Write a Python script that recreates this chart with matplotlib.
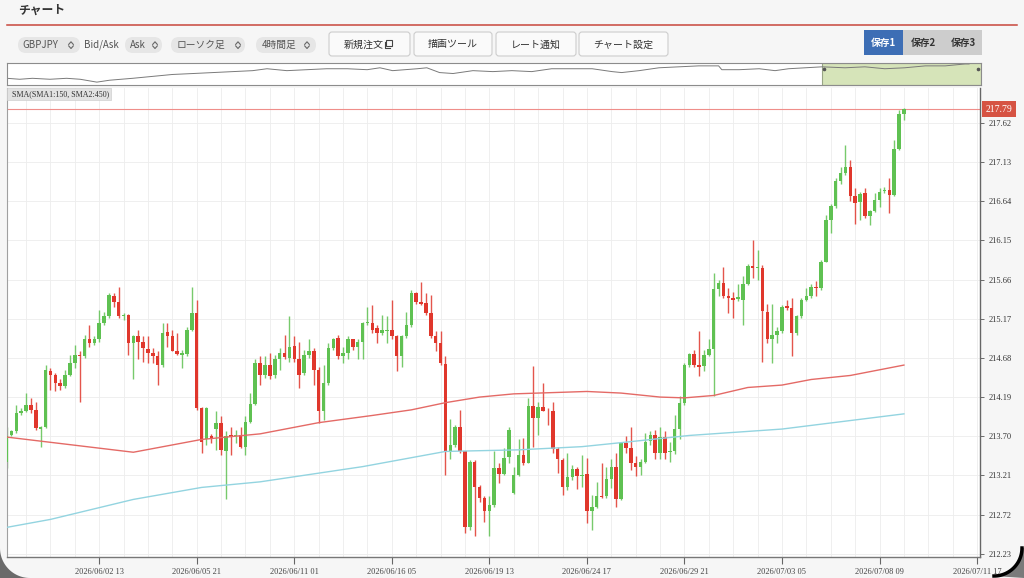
import numpy as np
import matplotlib.pyplot as plt
from matplotlib.patches import FancyBboxPatch, Rectangle, Polygon

plt.rcParams['font.family'] = ['Noto Sans CJK JP', 'DejaVu Sans']

# GBPJPY 4h candles (Ask), oldest first
opens = [
    213.38, 213.72, 213.76, 213.99, 214.01, 214.09, 214.03, 213.79, 213.82, 214.52,
    214.46, 214.36, 214.33, 214.47, 214.61, 214.72, 214.70, 214.91, 214.86, 214.91,
    215.11, 215.20, 215.46, 215.38, 215.20, 215.22, 214.86, 214.95, 214.88, 214.79,
    214.74, 214.70, 214.59, 215.00, 214.95, 214.77, 214.72, 214.73, 215.03, 215.24,
    214.05, 213.66, 213.70, 213.79, 213.87, 213.51, 213.71, 213.70, 213.72, 213.57,
    213.88, 214.10, 214.61, 214.47, 214.59, 214.47, 214.66, 214.74, 214.68, 214.83,
    214.66, 214.49, 214.71, 214.77, 214.53, 214.01, 214.36, 214.80, 214.93, 214.70,
    214.74, 214.91, 214.82, 214.88, 215.11, 215.12, 215.05, 214.99, 215.01, 215.03,
    214.95, 214.70, 214.95, 215.09, 215.49, 215.38, 215.37, 215.24, 214.95, 214.86,
    214.60, 213.50, 213.59, 213.82, 213.51, 212.57, 213.38, 213.07, 212.93, 212.76,
    212.84, 213.30, 213.23, 213.44, 212.99, 213.21, 213.47, 213.37, 214.08, 213.93,
    214.06, 214.02, 214.01, 213.54, 213.40, 213.06, 213.19, 213.29, 213.20, 213.23,
    212.76, 212.82, 212.95, 212.95, 213.16, 213.32, 212.91, 213.61, 213.55, 213.36,
    213.32, 213.38, 213.64, 213.71, 213.49, 213.69, 213.50, 213.51, 213.79, 214.11,
    214.59, 214.73, 214.59, 214.58, 214.71, 214.79, 215.54, 215.62, 215.46, 215.43,
    215.42, 215.41, 215.61, 215.83, 215.81, 215.81, 215.26, 214.91, 214.97, 215.01,
    215.33, 215.31, 214.99, 215.20, 215.41, 215.45, 215.57, 215.55, 215.88, 216.41,
    216.58, 216.89, 216.99, 217.07, 216.71, 216.63, 216.74, 216.45, 216.52, 216.66,
    216.77, 216.78, 216.72, 217.29, 217.73,
]
highs = [
    213.82, 213.78, 214.09, 214.05, 214.24, 214.18, 214.13, 213.83, 214.59, 214.55,
    214.49, 214.41, 214.53, 214.72, 214.84, 214.76, 214.97, 215.09, 214.95, 215.28,
    215.26, 215.49, 215.49, 215.57, 215.24, 215.23, 214.97, 215.03, 214.95, 214.95,
    214.80, 214.76, 215.11, 215.11, 215.03, 214.99, 214.78, 215.07, 215.57, 215.41,
    214.07, 214.07, 213.73, 214.01, 213.95, 213.76, 213.82, 213.78, 213.82, 213.95,
    214.24, 214.66, 214.70, 214.70, 214.74, 214.72, 214.80, 214.97, 215.20, 214.95,
    214.88, 214.78, 214.91, 214.80, 214.57, 214.59, 214.86, 214.93, 214.97, 214.82,
    214.95, 214.92, 214.91, 215.13, 215.32, 215.34, 215.09, 215.22, 215.20, 215.41,
    214.97, 214.97, 215.26, 215.53, 215.51, 215.63, 215.49, 215.47, 215.01, 215.01,
    214.70, 213.91, 213.84, 214.03, 213.51, 213.40, 213.40, 213.09, 212.95, 212.95,
    213.51, 213.36, 213.55, 213.82, 213.32, 213.66, 213.68, 214.18, 214.58, 214.13,
    214.36, 214.05, 214.13, 213.57, 213.43, 213.49, 213.34, 213.32, 213.47, 213.43,
    212.97, 213.13, 213.36, 213.32, 213.41, 213.49, 213.63, 213.70, 213.82, 213.45,
    213.41, 213.74, 213.76, 213.78, 213.82, 213.76, 213.63, 213.97, 214.20, 214.61,
    214.74, 214.78, 215.01, 214.78, 214.91, 215.74, 215.66, 215.82, 215.55, 215.51,
    215.61, 215.70, 215.86, 216.16, 216.03, 215.84, 215.36, 215.36, 215.07, 215.34,
    215.41, 215.43, 215.22, 215.43, 215.55, 215.61, 215.64, 215.91, 216.47, 216.61,
    216.93, 217.07, 217.34, 217.16, 216.80, 216.76, 216.80, 216.53, 216.74, 216.80,
    216.82, 216.93, 217.41, 217.78, 217.80,
]
lows = [
    213.30, 213.70, 213.74, 213.97, 214.00, 213.99, 213.78, 213.57, 213.80, 214.28,
    214.26, 214.28, 214.30, 214.45, 214.55, 214.13, 214.68, 214.82, 214.84, 214.88,
    215.09, 215.18, 215.32, 215.18, 215.16, 214.72, 214.41, 214.66, 214.63, 214.61,
    214.61, 214.34, 214.57, 214.82, 214.76, 214.72, 214.55, 214.70, 215.01, 214.03,
    213.49, 213.59, 213.62, 213.53, 213.47, 212.91, 213.47, 213.61, 213.55, 213.47,
    213.86, 214.09, 214.34, 214.43, 214.41, 214.43, 214.53, 214.66, 214.63, 214.63,
    214.30, 214.47, 214.68, 214.34, 213.86, 213.90, 214.34, 214.78, 214.66, 214.61,
    214.66, 214.78, 214.66, 214.66, 215.09, 214.99, 214.86, 214.97, 214.86, 214.91,
    214.51, 214.57, 214.93, 215.07, 215.36, 215.34, 215.22, 214.93, 214.76, 214.59,
    213.22, 213.41, 213.57, 213.49, 212.49, 212.53, 212.45, 212.88, 212.63, 212.45,
    212.82, 213.11, 213.21, 213.36, 212.98, 213.20, 213.34, 213.36, 213.57, 213.72,
    214.01, 213.84, 213.49, 213.24, 212.96, 213.03, 213.15, 213.04, 213.07, 212.61,
    212.53, 212.80, 212.93, 212.93, 213.05, 212.82, 212.90, 213.49, 213.28, 213.20,
    213.22, 213.36, 213.59, 213.41, 213.41, 213.41, 213.38, 213.48, 213.66, 214.09,
    214.57, 214.57, 214.45, 214.51, 214.70, 214.20, 215.45, 215.43, 215.24, 215.18,
    215.39, 215.09, 215.59, 215.68, 215.66, 214.63, 214.86, 214.61, 214.86, 214.99,
    215.28, 214.70, 214.97, 215.18, 215.39, 215.43, 215.45, 215.53, 215.88, 216.24,
    216.55, 216.86, 216.97, 216.64, 216.36, 216.41, 216.43, 216.34, 216.51, 216.57,
    216.74, 216.49, 216.70, 217.28, 217.66,
]
closes = [
    213.70, 213.76, 213.99, 214.01, 214.09, 214.03, 213.80, 213.82, 214.53, 214.47,
    214.36, 214.33, 214.47, 214.61, 214.72, 214.70, 214.91, 214.86, 214.91, 215.11,
    215.20, 215.47, 215.38, 215.20, 215.22, 214.86, 214.95, 214.88, 214.80, 214.74,
    214.70, 214.59, 214.99, 214.95, 214.77, 214.73, 214.74, 215.03, 215.24, 214.05,
    213.63, 214.05, 213.66, 213.87, 213.53, 213.70, 213.69, 213.72, 213.57, 213.88,
    214.10, 214.61, 214.47, 214.59, 214.45, 214.66, 214.74, 214.69, 214.82, 214.66,
    214.47, 214.72, 214.76, 214.53, 214.01, 214.36, 214.80, 214.91, 214.70, 214.74,
    214.91, 214.81, 214.88, 215.11, 215.13, 215.03, 214.99, 215.03, 215.03, 214.95,
    214.70, 214.95, 215.09, 215.49, 215.38, 215.36, 215.24, 214.95, 214.86, 214.61,
    213.51, 213.59, 213.82, 213.51, 212.57, 213.38, 213.07, 212.93, 212.76, 212.84,
    213.30, 213.23, 213.43, 213.78, 213.21, 213.47, 213.37, 214.08, 213.93, 214.07,
    214.02, 214.01, 213.54, 213.41, 213.06, 213.19, 213.29, 213.20, 213.22, 212.76,
    212.82, 212.95, 212.94, 213.16, 213.32, 212.91, 213.61, 213.55, 213.36, 213.32,
    213.38, 213.63, 213.71, 213.49, 213.69, 213.49, 213.52, 213.79, 214.11, 214.59,
    214.73, 214.59, 214.57, 214.71, 214.79, 215.54, 215.62, 215.46, 215.43, 215.41,
    215.44, 215.61, 215.83, 215.81, 215.82, 215.27, 214.91, 214.97, 215.01, 215.32,
    215.31, 214.99, 215.20, 215.41, 215.45, 215.57, 215.55, 215.88, 216.41, 216.58,
    216.89, 216.99, 217.07, 216.71, 216.62, 216.73, 216.45, 216.52, 216.66, 216.75,
    216.78, 216.72, 217.29, 217.73, 217.79,
]

# moving averages (at these bar numbers)
sma1_idx = [0, 26, 40, 52, 64, 75, 83, 90, 97, 104, 109, 119, 126, 134, 139, 145, 152, 159, 165, 173, 184]
sma1_val = [213.69, 213.50, 213.66, 213.73, 213.87, 213.96, 214.03, 214.12, 214.19, 214.23, 214.24,
            214.26, 214.24, 214.19, 214.18, 214.21, 214.31, 214.34, 214.41, 214.46, 214.59]
sma2_idx = [0, 9, 26, 40, 52, 73, 90, 105, 118, 126, 140, 159, 184]
sma2_val = [212.56, 212.66, 212.91, 213.06, 213.13, 213.32, 213.51, 213.53, 213.57, 213.62, 213.71, 213.79, 213.98]

time_idx = [19, 39, 59, 79, 99, 119, 139, 159, 179, 199]
time_labels = ["2026/06/02 13", "2026/06/05 21", "2026/06/11 01", "2026/06/16 05", "2026/06/19 13",
               "2026/06/24 17", "2026/06/29 21", "2026/07/03 05", "2026/07/08 09", "2026/07/11 17"]
price_ticks = [212.23, 212.72, 213.21, 213.70, 214.19, 214.68, 215.17, 215.66, 216.15, 216.64, 217.13, 217.62]
last_price = 217.79

# navigator: longer history (bar number relative to first visible bar)
nav_t = [-1025, -1009, -993, -971, -950, -933, -912, -896, -867, -842, -817, -791, -766, -741,
         -716, -698, -673, -648, -623, -597, -572, -556, -540, -509, -497, -481, -464, -439,
         -414, -390, -365, -340, -315, -289, -264, -252, -230, -205, -180, -155, -130, -126,
         -104, -79, -59, -42, -21, 0, 29, 54, 79, 104, 130, 155, 180, 185]
nav_close = [200.4, 199.2, 200.4, 199.2, 200.4, 199.2, 195.6, 198.0, 200.4, 202.8, 205.2, 206.4,
             207.6, 208.8, 210.0, 212.4, 210.0, 211.2, 212.4, 212.4, 211.2, 213.6, 210.0, 212.4,
             213.6, 207.6, 206.4, 210.0, 208.8, 210.0, 208.8, 212.4, 212.4, 212.4, 208.8, 207.6,
             210.0, 213.6, 214.8, 216.0, 216.0, 211.2, 211.2, 212.4, 210.0, 212.4, 213.6, 214.8,
             213.6, 214.8, 212.4, 213.6, 216.0, 216.0, 218.4, 218.4]

GREEN = "#5fc152"
RED = "#e0372c"
W, H = 1024, 578


def box(x0, y0, x1, y1):
    """pixel box (top-left origin) -> figure fraction rect"""
    return [x0 / W, 1 - y1 / H, (x1 - x0) / W, (y1 - y0) / H]


fig = plt.figure(figsize=(W / 100, H / 100), dpi=100, facecolor="#f6f6f6")

# ---- main price chart
ax = fig.add_axes(box(7, 88, 980, 557))
ax.set_facecolor("white")
o, h, l, c = map(np.array, (opens, highs, lows, closes))
idx = np.arange(len(c))
col = np.where(c >= o, GREEN, RED)
ax.vlines(idx, l, h, colors=col, linewidth=1.0, alpha=0.85, zorder=2)
ax.bar(idx, np.maximum(np.abs(c - o), 0.012), bottom=np.minimum(o, c), width=0.72,
       color=col, linewidth=0, zorder=3)

ax.plot(sma1_idx, sma1_val, color="#e46a66", lw=1.0, zorder=4)
ax.plot(sma2_idx, sma2_val, color="#93d4e0", lw=1.0, zorder=4)
ax.axhline(last_price, color="#ef8e8a", lw=0.8, zorder=1.5)

ax.set_xlim(0.1, 199.6)
ax.set_ylim(212.19, 218.055)
ax.yaxis.tick_right()
ax.set_yticks(price_ticks)
ax.set_yticklabels([f"{v:.2f}" for v in price_ticks], fontfamily="Liberation Serif",
                   fontsize=6, color="#333")
ax.set_xticks(time_idx)
ax.set_xticklabels(time_labels, fontfamily="Liberation Serif", fontsize=6, color="#444")
ax.set_xticks(np.arange(4, 200, 5), minor=True)
ax.tick_params(axis="y", direction="out", length=3, width=0.6, color="#555", pad=3)
ax.tick_params(axis="x", which="major", direction="out", length=5, width=0.8, color="#666", pad=3)
ax.tick_params(axis="x", which="minor", length=0)
ax.grid(axis="x", which="both", color="#ededed", lw=0.6)
ax.grid(axis="y", which="major", color="#ededed", lw=0.6)
ax.set_axisbelow(True)
for side, colr, lw in (("left", "#a0a0a0", 0.8), ("bottom", "#777", 1.0), ("right", "#666", 1.0)):
    ax.spines[side].set_color(colr)
    ax.spines[side].set_linewidth(lw)
ax.spines["top"].set_visible(False)

# indicator caption and current-price tag
ax.add_patch(Rectangle((0, 1 - 12 / 469), 104 / 973, 12 / 469, transform=ax.transAxes,
                       fc="#e2e2e2", ec="#cfcfcf", lw=0.5, zorder=5))
ax.text(5 / 973, 1 - 6 / 469, "SMA(SMA1:150, SMA2:450)", transform=ax.transAxes,
        fontfamily="Liberation Serif", fontsize=5.8, color="#333", va="center", zorder=6)
ax.text(1.006, last_price, f"{last_price:.2f}", transform=ax.get_yaxis_transform(),
        fontfamily="Liberation Serif", fontsize=7, color="white", va="center", ha="left",
        bbox=dict(boxstyle="square,pad=0.35", fc="#d65343", ec="none"), clip_on=False, zorder=6)

# ---- navigator strip
nav = fig.add_axes(box(7, 63, 981, 85))
nav.set_facecolor("white")
nav.axvspan(0, 200, fc="#d6e4b9", ec="#98a585", lw=0.8)
nav.plot(nav_t, nav_close, color="#7a7a7a", lw=0.7)
nav.plot([3, 196], [212.0, 212.0], ls="none", marker="o", ms=1.6, color="#555")
nav.set_xlim(-1025, 200)
nav.set_ylim(192.0, 219.6)
nav.set_xticks([])
nav.set_yticks([])
for s in nav.spines.values():
    s.set_color("#8c8c8c")
    s.set_linewidth(0.8)

# ---- page chrome (header, selectors, buttons)
ui = fig.add_axes([0, 0, 1, 1], zorder=10)
ui.set_xlim(0, W)
ui.set_ylim(H, 0)
ui.axis("off")
ui.patch.set_alpha(0)

ui.text(18, 10, "チャート", fontsize=8.5, fontweight="bold", color="#333", va="center")
ui.plot([7, 1017], [24.5, 24.5], color="#c8463c", lw=1.1)


def updown(x, y):
    ui.plot([x - 2.3, x, x + 2.3], [y - 0.6, y - 3.2, y - 0.6], color="#666", lw=0.8)
    ui.plot([x - 2.3, x, x + 2.3], [y + 0.9, y + 3.5, y + 0.9], color="#666", lw=0.8)


pills = [(18, 80, "GBPJPY", 22, 71), (125, 162, "Ask", 130, 155),
         (171, 245, "ローソク足", 177, 238), (256, 316, "4時間足", 262, 307)]
for x0, x1, label, tx, ix in pills:
    ui.add_patch(FancyBboxPatch((x0, 37), x1 - x0, 16, boxstyle="round,pad=0,rounding_size=8",
                                fc="#e6e6e6", ec="none"))
    ui.text(tx, 45, label, fontsize=7, color="#555", va="center")
    updown(ix, 45)
ui.text(84, 45, "Bid/Ask", fontsize=7, color="#555", va="center")

buttons = [(329, 410, "新規注文"), (414, 492, "描画ツール"), (496, 576, "レート通知"), (579, 668, "チャート設定")]
for x0, x1, label in buttons:
    ui.add_patch(FancyBboxPatch((x0, 32), x1 - x0, 24, boxstyle="round,pad=0,rounding_size=3",
                                fc="#fafafa", ec="#cdcdcd", lw=0.8))
    cx = (x0 + x1) / 2 - (6 if label == "新規注文" else 0)
    ui.text(cx, 44.5, label, fontsize=7.2, color="#333", va="center", ha="center")
ui.add_patch(Rectangle((386, 40), 6, 6, fc="none", ec="#444", lw=0.8))
ui.plot([384.5, 384.5, 390], [41.5, 47.5, 47.5], color="#444", lw=0.8)

ui.add_patch(Rectangle((864, 30), 39, 25, fc="#3d6eb5", ec="none"))
ui.add_patch(Rectangle((903, 30), 79, 25, fc="#cdcdcd", ec="none"))
for cx, label, colr in ((883.5, "保存1", "white"), (923, "保存2", "#333"), (963, "保存3", "#333")):
    ui.text(cx, 43, label, fontsize=7, fontweight="bold", color=colr, va="center", ha="center")

# rounded screen corners at the bottom
phi = np.linspace(0, np.pi / 2, 30)
left_arc = np.column_stack([30 - 30 * np.cos(phi), 548 + 30 * np.sin(phi)])
ui.add_patch(Polygon(np.vstack([left_arc, [[0, H]]]), closed=True, fc="#6a6a6a", ec="none"))
right_arc = np.column_stack([994 + 28 * np.cos(phi), 548 + 28 * np.sin(phi)])
ui.add_patch(Polygon(np.vstack([right_arc, [[W, H], [W, 548]]]), closed=True, fc="#7a7a7a", ec="none"))
ui.plot(right_arc[:, 0], right_arc[:, 1], color="black", lw=2.5)

fig.savefig("out.png", dpi=100, facecolor=fig.get_facecolor())
